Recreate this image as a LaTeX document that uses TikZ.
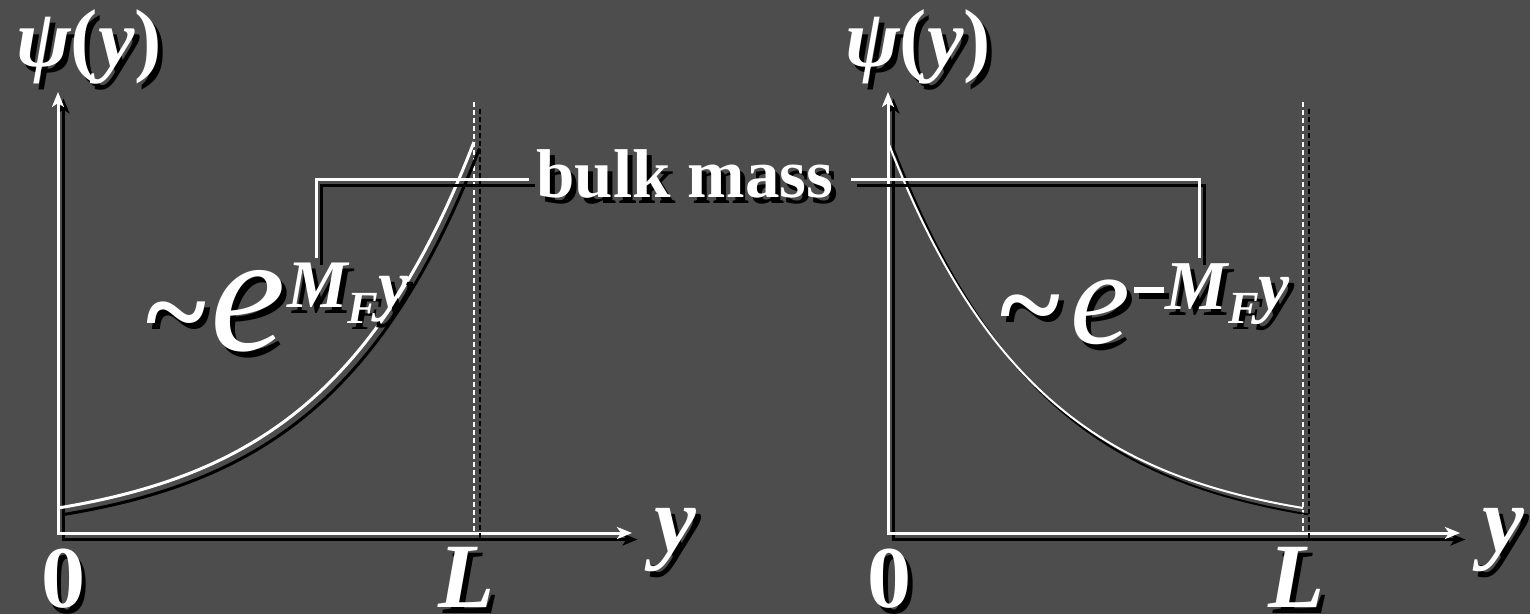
\documentclass[tikz,border=0pt]{standalone}
\usepackage{fontspec}
\setmainfont{Liberation Serif}
\usetikzlibrary{arrows.meta, positioning}

\definecolor{slide}{RGB}{77,77,77}
% text with a black drop shadow
\newcommand{\shd}[1]{\makebox[0pt][l]{\hspace{5pt}\raisebox{-6pt}{\textcolor{black}{#1}}}#1}
\newcommand{\fs}[1]{\fontsize{#1}{#1}\selectfont}

\begin{document}
\begin{tikzpicture}[x=1pt, y=-1pt,
    wline/.style={draw=white, line width=3pt},
    dropsh/.style={draw=black, transform canvas={shift={(5.5pt,-6.5pt)}}},
    tip/.style={{Stealth[length=15pt,width=12pt,inset=4pt]}-{Stealth[length=15pt,width=12pt,inset=4pt]}},
    bound/.style={line width=2pt, dash pattern=on 5pt off 3pt},
    lbl/.style={text=white, inner sep=0pt, anchor=base}]
  \fill[slide] (0,0) rectangle (1530,614);

  % left plot
  \coordinate (o1) at (58,533);
  \coordinate (ye1) at (58,92);
  \coordinate (xe1) at (632,533);
  \coordinate (l1t) at (474,102);
  \coordinate (l1) at (474,533);
  \draw[wline, tip, dropsh] (ye1) -- (o1) -- (xe1);
  \draw[wline, tip] (ye1) -- (o1) -- (xe1);
  \draw[wline, bound, dropsh] (l1t) -- (l1);
  \draw[wline, bound] (l1t) -- (l1);
  \draw[wline, dropsh] plot[domain=58:474, samples=60] (\x, {533-25*exp(2.75*(\x-58)/416)});
  \draw[wline] plot[domain=58:474, samples=60] (\x, {533-25*exp(2.75*(\x-58)/416)});

  % right plot
  \coordinate (o2) at (888,533);
  \coordinate (ye2) at (888,92);
  \coordinate (xe2) at (1460,533);
  \coordinate (l2t) at (1303,102);
  \coordinate (l2) at (1303,533);
  \draw[wline, tip, dropsh] (ye2) -- (o2) -- (xe2);
  \draw[wline, tip] (ye2) -- (o2) -- (xe2);
  \draw[wline, bound, dropsh] (l2t) -- (l2);
  \draw[wline, bound] (l2t) -- (l2);
  \draw[wline, line width=2pt, dropsh] plot[domain=888:1303, samples=60] (\x, {533-25*exp(2.75*(1303-\x)/415)});
  \draw[wline, line width=2pt] plot[domain=888:1303, samples=60] (\x, {533-25*exp(2.75*(1303-\x)/415)});

  % labels
  \node[lbl] (psi1) at (89,66) {\shd{\fs{82}\bfseries\itshape ψ\upshape(\itshape y\upshape)}};
  \node[lbl] (psi2) at (918,66) {\shd{\fs{82}\bfseries\itshape ψ\upshape(\itshape y\upshape)}};
  \node[lbl] (zero1) at (63,607) {\shd{\fs{88}\bfseries 0}};
  \node[lbl] (zero2) at (889,607) {\shd{\fs{88}\bfseries 0}};
  \node[lbl] (len1) at (467,607) {\shd{\fs{92}\bfseries\itshape L}};
  \node[lbl] (len2) at (1297,607) {\shd{\fs{92}\bfseries\itshape L}};
  \node[lbl] (yax1) at (675,551) {\shd{\fs{94}\bfseries\itshape y}};
  \node[lbl] (yax2) at (1503,551) {\shd{\fs{94}\bfseries\itshape y}};

  \node[lbl] (bulk) at (685,197) {\shd{\fs{69}\bfseries bulk mass}};
  \node[lbl, anchor=base west] (expL) at (146,350)
    {\shd{\fs{115}\bfseries\char"7E\hspace{4pt}\fs{170}\mdseries\itshape e\hspace{2pt}\raisebox{43pt}{\fs{68}\bfseries M\raisebox{-16pt}{\fs{46}F}y}}};
  \node[lbl, anchor=base west] (expR) at (1000,343)
    {\shd{\fs{115}\bfseries\char"7E\hspace{10pt}\fs{135}\mdseries\itshape e\hspace{4pt}\raisebox{50pt}{\rule{30pt}{6pt}}\hspace{2pt}\raisebox{34pt}{\fs{70}\bfseries M\raisebox{-14pt}{\fs{46}F}y}}};

  % bracket to both exponents
  \coordinate (bk1) at (529,179);
  \coordinate (bk2) at (851,179);
  \coordinate (eL) at (316,258);
  \coordinate (eR) at (1199,258);
  \draw[wline, dropsh] (eL) |- (bk1);
  \draw[wline] (eL) |- (bk1);
  \draw[wline, dropsh] (bk2) -| (eR);
  \draw[wline] (bk2) -| (eR);
\end{tikzpicture}
\end{document}
